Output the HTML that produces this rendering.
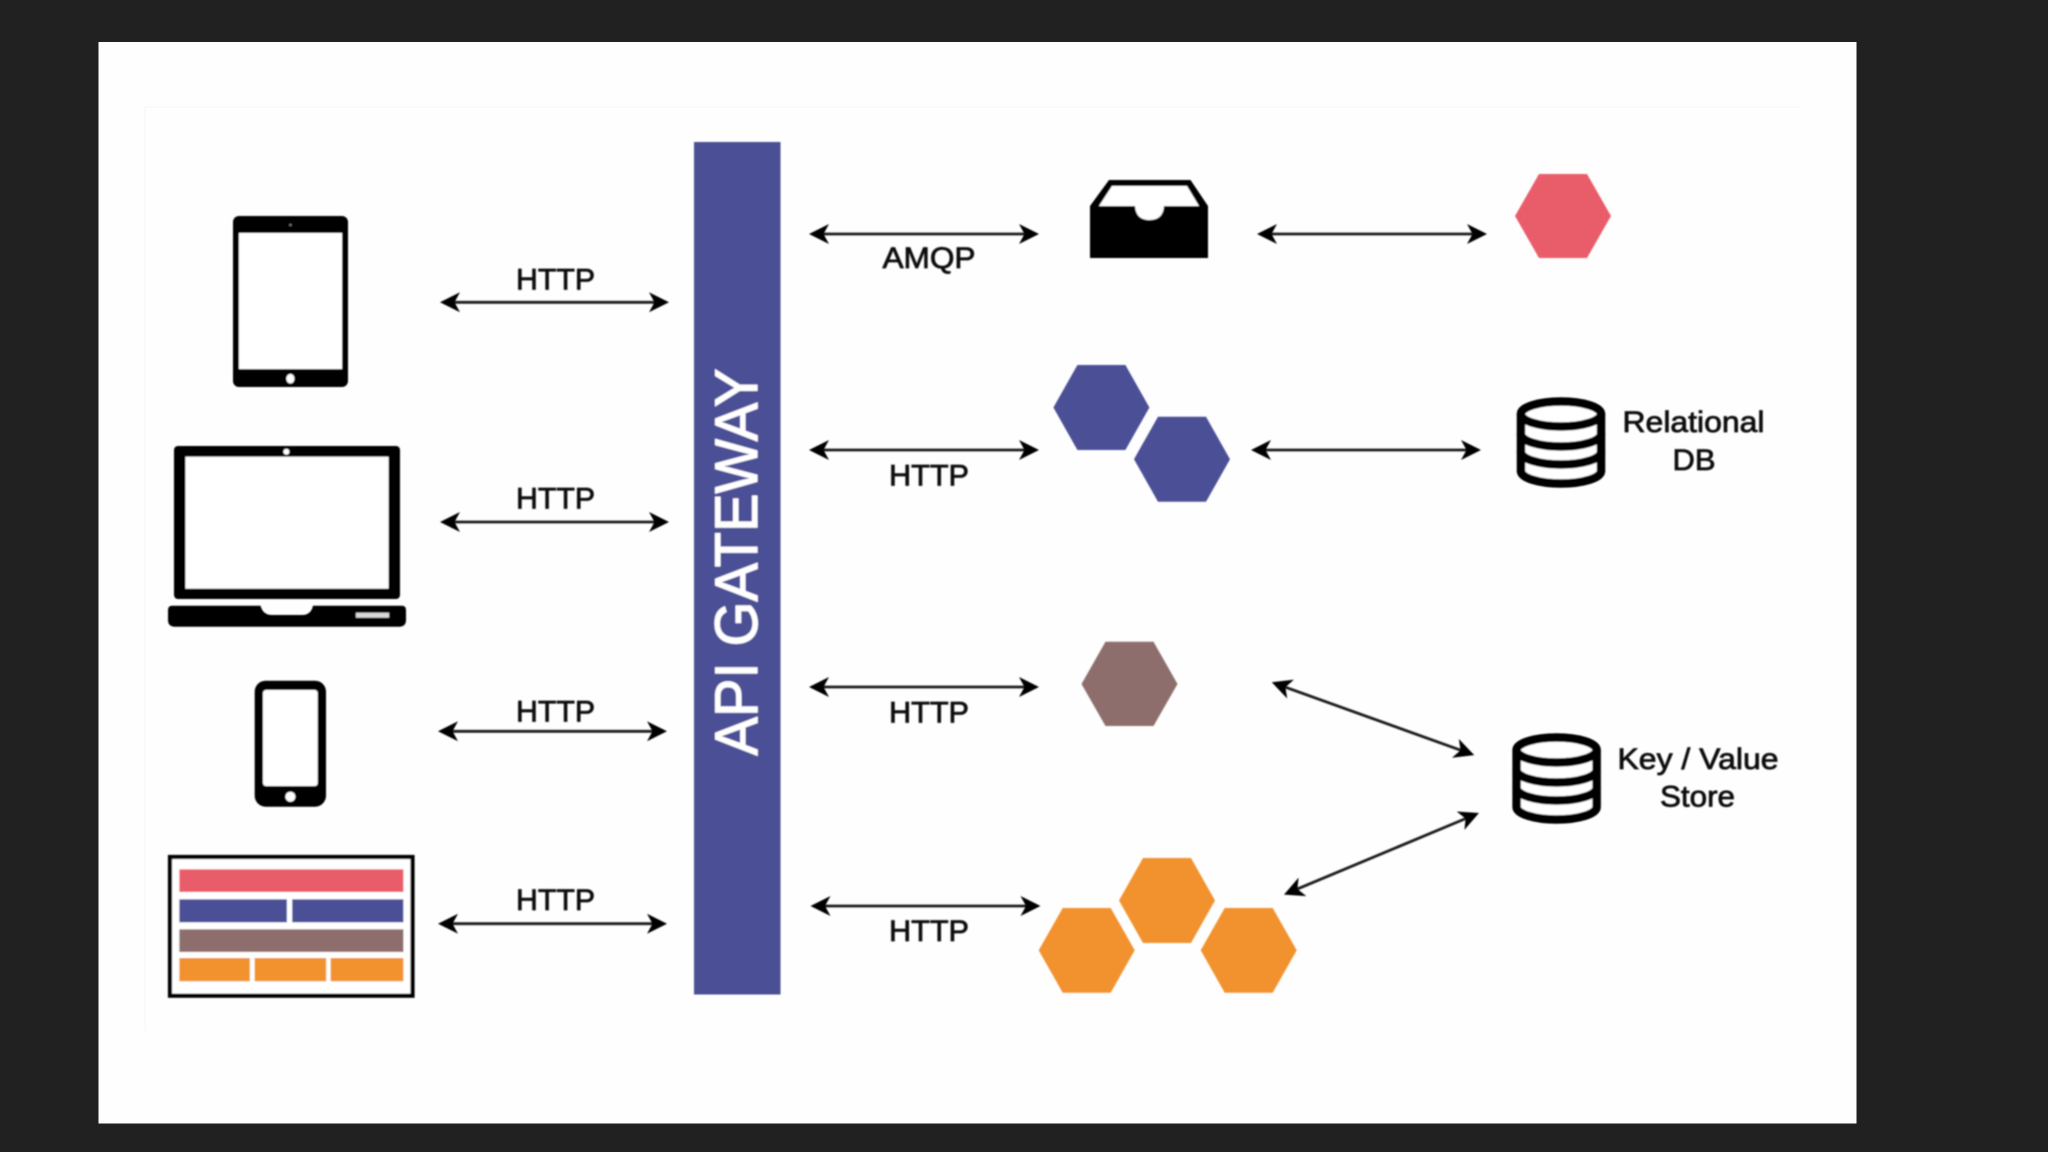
<!DOCTYPE html>
<html><head><meta charset="utf-8"><style>
html,body{margin:0;padding:0;width:2048px;height:1152px;overflow:hidden;background:#212121}
svg{display:block}
text{font-family:"Liberation Sans",Arial,sans-serif;fill:#0c0c0c;stroke:#0c0c0c;stroke-width:.75}
</style></head><body>
<svg width="2048" height="1152" viewBox="0 0 2048 1152" xmlns="http://www.w3.org/2000/svg">
<defs>
<filter id="b" x="0" y="0" width="100%" height="100%"><feGaussianBlur stdDeviation="0.85"/></filter>
<marker id="a" markerUnits="userSpaceOnUse" markerWidth="26" markerHeight="22" refX="8" refY="10" orient="auto-start-reverse"><path d="M21,10 L1,0 L6.5,10 L1,20 Z" fill="#000"/></marker>
</defs>
<rect width="2048" height="1152" fill="#212121"/>
<rect x="98.5" y="42" width="1758" height="1081.5" fill="#fefefe"/>
<g filter="url(#b)">
<path d="M144.5,1032 V106.5 H1800" fill="none" stroke="#f1f1f1" stroke-width="1.5"/>

<!-- Gateway bar -->
<rect x="694" y="142" width="86.5" height="852.5" fill="#4c5096"/>
<text transform="translate(757,755.5) rotate(-90)" font-size="60" textLength="387" lengthAdjust="spacingAndGlyphs" style="fill:#fff;stroke:#fff;stroke-width:1">API GATEWAY</text>

<!-- Tablet -->
<rect x="233" y="216" width="115" height="171" rx="6" fill="#000"/>
<rect x="239" y="233" width="103" height="136" fill="#fff"/>
<circle cx="290.4" cy="225" r="1.2" fill="#777"/>
<ellipse cx="290.4" cy="378.7" rx="4" ry="4.8" fill="#fff"/>

<!-- Laptop -->
<rect x="174" y="446" width="226" height="153" rx="4" fill="#000"/>
<rect x="185.5" y="456.7" width="203" height="132" fill="#fff"/>
<circle cx="286.4" cy="451.7" r="3" fill="#fff"/>
<path d="M172,605.7 H260.5 Q263,615 272,615 H302 Q311,615 313,605.7 H402 Q406,605.7 406,610 V620 Q406,626.7 399,626.7 H175 Q168,626.7 168,620 V610 Q168,605.7 172,605.7 Z" fill="#000"/>
<rect x="356" y="612.7" width="33" height="5" fill="#fff" opacity=".85"/>

<!-- Phone -->
<rect x="254.7" y="680.7" width="71.3" height="126" rx="11" fill="#000"/>
<rect x="263" y="690" width="54.7" height="96" rx="3" fill="#fff"/>
<circle cx="290.4" cy="796.7" r="5" fill="#fff"/>

<!-- Web page -->
<rect x="170" y="857" width="242.5" height="138.7" fill="#fff" stroke="#000" stroke-width="4.2"/>
<rect x="179.3" y="869.3" width="224.1" height="22.7" fill="#e95d6b"/>
<rect x="179.3" y="899.3" width="107.6" height="23" fill="#4c5096"/>
<rect x="292.2" y="899.3" width="111.2" height="23" fill="#4c5096"/>
<rect x="179.3" y="929.3" width="224.1" height="22.7" fill="#8e6e6c"/>
<rect x="179.3" y="958" width="70.6" height="23.3" fill="#f2922e"/>
<rect x="254.6" y="958" width="71.6" height="23.3" fill="#f2922e"/>
<rect x="330.6" y="958" width="72.8" height="23.3" fill="#f2922e"/>

<!-- Arrows -->
<g stroke="#1a1a1a" stroke-width="2.8" fill="none">
<line x1="453" y1="302.3" x2="656" y2="302.3" marker-start="url(#a)" marker-end="url(#a)"/>
<line x1="453" y1="522" x2="656" y2="522" marker-start="url(#a)" marker-end="url(#a)"/>
<line x1="451" y1="731.3" x2="654" y2="731.3" marker-start="url(#a)" marker-end="url(#a)"/>
<line x1="451" y1="923.7" x2="654" y2="923.7" marker-start="url(#a)" marker-end="url(#a)"/>
<line x1="822" y1="234" x2="1026" y2="234" marker-start="url(#a)" marker-end="url(#a)"/>
<line x1="822" y1="450" x2="1026" y2="450" marker-start="url(#a)" marker-end="url(#a)"/>
<line x1="822" y1="687" x2="1026" y2="687" marker-start="url(#a)" marker-end="url(#a)"/>
<line x1="823.5" y1="906" x2="1027.5" y2="906" marker-start="url(#a)" marker-end="url(#a)"/>
<line x1="1270" y1="234" x2="1474" y2="234" marker-start="url(#a)" marker-end="url(#a)"/>
<line x1="1264" y1="450" x2="1468" y2="450" marker-start="url(#a)" marker-end="url(#a)"/>
<line x1="1284" y1="686.7" x2="1462" y2="750.7" marker-start="url(#a)" marker-end="url(#a)"/>
<line x1="1467" y1="818" x2="1296" y2="889.6" marker-start="url(#a)" marker-end="url(#a)"/>
</g>

<!-- Labels -->
<text x="516" y="289.5" font-size="30" textLength="79" lengthAdjust="spacingAndGlyphs">HTTP</text>
<text x="516" y="508.5" font-size="30" textLength="79" lengthAdjust="spacingAndGlyphs">HTTP</text>
<text x="516" y="721.5" font-size="30" textLength="79" lengthAdjust="spacingAndGlyphs">HTTP</text>
<text x="516" y="910" font-size="30" textLength="79" lengthAdjust="spacingAndGlyphs">HTTP</text>
<text x="882.5" y="268" font-size="30" textLength="93" lengthAdjust="spacingAndGlyphs">AMQP</text>
<text x="889" y="485.5" font-size="30" textLength="80" lengthAdjust="spacingAndGlyphs">HTTP</text>
<text x="889" y="722.7" font-size="30" textLength="80" lengthAdjust="spacingAndGlyphs">HTTP</text>
<text x="889" y="941" font-size="30" textLength="80" lengthAdjust="spacingAndGlyphs">HTTP</text>
<text x="1622.5" y="432" font-size="30" textLength="142" lengthAdjust="spacingAndGlyphs">Relational</text>
<text x="1672.5" y="470" font-size="30" textLength="43" lengthAdjust="spacingAndGlyphs">DB</text>
<text x="1617.5" y="769" font-size="30" textLength="161" lengthAdjust="spacingAndGlyphs">Key / Value</text>
<text x="1660" y="806.7" font-size="30" textLength="75" lengthAdjust="spacingAndGlyphs">Store</text>

<!-- Inbox -->
<path d="M1109,180 H1190.5 L1208,206 V258 H1090 V206 Z" fill="#000"/>
<path d="M1112,186 H1187 L1199,206 H1164 Q1163,220 1149.5,220 Q1136,220 1135,206 H1099 Z" fill="#fff"/>

<!-- Hexagons -->
<polygon points="1539,174 1587,174 1611,216 1587,258 1539,258 1515,216" fill="#e95d6b"/>
<polygon points="1077.4,365 1125.4,365 1149.4,407.5 1125.4,450 1077.4,450 1053.4,407.5" fill="#4c5096"/>
<polygon points="1158,416.7 1206,416.7 1230,459.2 1206,501.7 1158,501.7 1134,459.2" fill="#4c5096"/>
<polygon points="1105.5,641.7 1153.5,641.7 1177.5,684 1153.5,726 1105.5,726 1081.5,684" fill="#8e6e6c"/>
<polygon points="1143,858 1191,858 1215,900.5 1191,943 1143,943 1119,900.5" fill="#f2922e"/>
<polygon points="1062.7,908 1110.7,908 1134.7,950.3 1110.7,992.7 1062.7,992.7 1038.7,950.3" fill="#f2922e"/>
<polygon points="1224.7,908 1272.7,908 1296.7,950.3 1272.7,992.7 1224.7,992.7 1200.7,950.3" fill="#f2922e"/>

<!-- DB icons -->
<g fill="none" stroke="#000" stroke-width="8.5">
<path d="M1521,414 V471 A40,12.5 0 0 0 1601,471 V414" fill="#fff"/>
<ellipse cx="1561" cy="414" rx="40" ry="12.5" fill="#fff"/>
<path d="M1521,434 A40,12.5 0 0 0 1601,434"/>
<path d="M1521,452 A40,12.5 0 0 0 1601,452"/>
</g>
<g transform="translate(-4.4,336)" fill="none" stroke="#000" stroke-width="8.5">
<path d="M1521,414 V471 A40,12.5 0 0 0 1601,471 V414" fill="#fff"/>
<ellipse cx="1561" cy="414" rx="40" ry="12.5" fill="#fff"/>
<path d="M1521,434 A40,12.5 0 0 0 1601,434"/>
<path d="M1521,452 A40,12.5 0 0 0 1601,452"/>
</g>
</g>
</svg>
</body></html>
